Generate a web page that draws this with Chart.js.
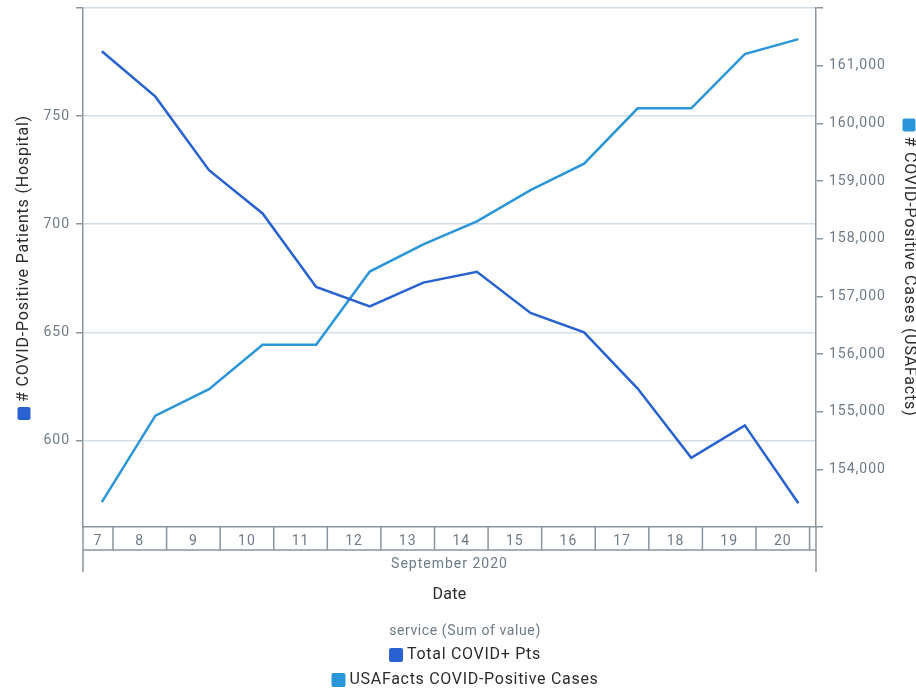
<!DOCTYPE html>
<html>
<head>
<meta charset="utf-8">
<script src="https://cdn.jsdelivr.net/npm/chart.js@4.4.1/dist/chart.umd.min.js"></script>
<style>
  html, body { margin: 0; padding: 0; background: #fff; }
  #wrap { width: 916px; height: 692px; }
</style>
</head>
<body>
<div id="wrap"><canvas id="covidChart" width="916" height="692"></canvas></div>
<script>
// September 2020, one reading per day
const days = [7, 8, 9, 10, 11, 12, 13, 14, 15, 16, 17, 18, 19, 20];
const monthLabel = 'September 2020';
const totalPts = [780, 759, 725, 705, 671, 662, 673, 678, 659, 650, 624, 592, 607, 571];
const usaFactsCases = [153430, 154930, 155390, 156160, 156160, 157430, 157900, 158300,
                       158840, 159300, 160260, 160260, 161200, 161460];
const leftTicks = [600, 650, 700, 750, 800];
const rightTicks = [153000, 154000, 155000, 156000, 157000, 158000, 159000, 160000, 161000, 162000];

const DARK = '#2862d0';
const LIGHT = '#2a96d9';
const AXIS = '#8a949d';
const GRID = '#d3dde5';
const MUTED = '#6d7a87';
const TEXT = '#2b2b2b';
const FONT = 'Roboto, "Noto Sans", sans-serif';
const HOUR = 19 / 24; // readings are stamped at 19:00 local time

function points(values) {
  return days.map((d, i) => ({ x: d + HOUR, y: values[i] }));
}

function square(ctx, x, y, size, color) {
  ctx.fillStyle = color;
  ctx.beginPath();
  ctx.roundRect(x, y, size, size, 2);
  ctx.fill();
}

// rotated axis title with a coloured square in front of it
function axisTitle(ctx, text, color, cx, cy, angle) {
  ctx.save();
  ctx.translate(cx, cy);
  ctx.rotate(angle);
  ctx.font = '16px ' + FONT;
  ctx.letterSpacing = '0.8px';
  const w = 13 + 5 + ctx.measureText(text).width;
  square(ctx, -w / 2, -6.5, 13, color);
  ctx.fillStyle = TEXT;
  ctx.textAlign = 'left';
  ctx.textBaseline = 'middle';
  ctx.fillText(text, -w / 2 + 18, 0);
  ctx.restore();
}

function legendItem(ctx, text, color, cx, cy) {
  ctx.font = '16px ' + FONT;
  const w = 14 + 4 + ctx.measureText(text).width;
  square(ctx, cx - w / 2, cy - 7, 14, color);
  ctx.fillStyle = TEXT;
  ctx.textAlign = 'left';
  ctx.fillText(text, cx - w / 2 + 18, cy);
}

const decor = {
  id: 'decor',
  beforeDraw(chart) {
    chart.ctx.letterSpacing = '1px';
  },
  afterDraw(chart) {
    const { ctx, chartArea: a, scales: { x } } = chart;
    const rowTop = a.bottom;
    const rowBot = a.bottom + 23;
    const frameBot = a.bottom + 45;
    const midX = (a.left + a.right) / 2;

    ctx.save();
    ctx.strokeStyle = AXIS;
    ctx.lineWidth = 1.5;
    ctx.beginPath();
    for (let d = days[0] + 1; d <= days[days.length - 1] + 1; d++) {
      const px = x.getPixelForValue(d);
      ctx.moveTo(px, rowTop);
      ctx.lineTo(px, rowBot);
    }
    ctx.moveTo(a.left, rowBot);
    ctx.lineTo(a.right, rowBot);
    ctx.moveTo(a.left, rowTop);
    ctx.lineTo(a.left, frameBot);
    ctx.moveTo(a.right, rowTop);
    ctx.lineTo(a.right, frameBot);
    ctx.stroke();

    ctx.font = '14px ' + FONT;
    ctx.letterSpacing = '1px';
    ctx.fillStyle = MUTED;
    ctx.textAlign = 'center';
    ctx.textBaseline = 'middle';
    days.forEach(d => {
      const l = Math.max(a.left, x.getPixelForValue(d));
      const r = Math.min(a.right, x.getPixelForValue(d + 1));
      if (r - l > 12) ctx.fillText(String(d), (l + r) / 2, rowTop + 14);
    });
    ctx.fillText(monthLabel, midX, rowBot + 14);

    ctx.font = '16px ' + FONT;
    ctx.letterSpacing = '0.3px';
    ctx.fillStyle = TEXT;
    ctx.fillText('Date', midX, 595);

    // legend
    ctx.font = '14px ' + FONT;
    ctx.letterSpacing = '0.6px';
    ctx.fillStyle = MUTED;
    ctx.fillText('service (Sum of value)', 465, 631);
    ctx.letterSpacing = '0.7px';
    chart.data.datasets.forEach((ds, i) => {
      legendItem(ctx, ds.label, ds.borderColor, 465, 655 + i * 25);
    });

    const midY = (a.top + a.bottom) / 2;
    axisTitle(ctx, '# COVID-Positive Patients (Hospital)', DARK, 24, midY, -Math.PI / 2);
    axisTitle(ctx, '# COVID-Positive Cases (USAFacts)', LIGHT, 909, midY, Math.PI / 2);
    ctx.restore();
    ctx.letterSpacing = '0px';
  }
};

function fixWidth(w) {
  return s => {
    s.width = w;
    s.paddingTop = 0;
    s.paddingBottom = 0;
  };
}

const ctx = document.getElementById('covidChart').getContext('2d');
const covidChart = new Chart(ctx, {
  type: 'line',
  data: {
    datasets: [{
      label: 'Total COVID+ Pts',
      data: points(totalPts),
      borderColor: DARK,
      backgroundColor: DARK,
      borderWidth: 2.5,
      pointRadius: 0,
      tension: 0,
      yAxisID: 'y'
    }, {
      label: 'USAFacts COVID-Positive Cases',
      data: points(usaFactsCases),
      borderColor: LIGHT,
      backgroundColor: LIGHT,
      borderWidth: 2.5,
      pointRadius: 0,
      tension: 0,
      yAxisID: 'y1'
    }]
  },
  options: {
    responsive: false,
    animation: false,
    devicePixelRatio: 1,
    layout: { padding: { top: 8 } },
    plugins: { legend: { display: false }, tooltip: { enabled: false } },
    scales: {
      x: {
        type: 'linear',
        min: 7.44,
        max: 21.12,
        grid: { display: false },
        border: { color: AXIS, width: 1.5 },
        ticks: { display: false },
        afterFit: s => { s.height = 165; }
      },
      y: {
        position: 'left',
        min: 560,
        max: 800,
        afterBuildTicks: s => { s.ticks = leftTicks.map(v => ({ value: v })); },
        grid: { color: GRID, lineWidth: 1.5, tickColor: AXIS, tickLength: 7 },
        border: { color: AXIS, width: 1.5 },
        ticks: {
          color: MUTED,
          font: { family: FONT, size: 14 },
          padding: 6,
          callback: v => (v === 800 ? '' : String(v))
        },
        afterFit: fixWidth(83)
      },
      y1: {
        position: 'right',
        min: 153000,
        max: 162000,
        afterBuildTicks: s => { s.ticks = rightTicks.map(v => ({ value: v })); },
        grid: { drawOnChartArea: false, tickColor: AXIS, lineWidth: 1.5, tickLength: 7 },
        border: { color: AXIS, width: 1.5 },
        ticks: {
          color: MUTED,
          font: { family: FONT, size: 14 },
          padding: 6,
          callback: v => (v === 153000 || v === 162000 ? '' : v.toLocaleString('en-US'))
        },
        afterFit: fixWidth(100)
      }
    }
  },
  plugins: [decor]
});
</script>
</body>
</html>
